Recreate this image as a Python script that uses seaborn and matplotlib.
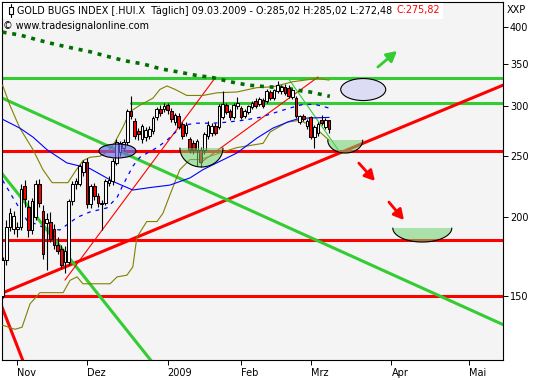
import numpy as np
import matplotlib
matplotlib.use("Agg")
import matplotlib.pyplot as plt
import matplotlib.patches as mpatches
import matplotlib.transforms as mtransforms
import matplotlib.ticker as mticker
from matplotlib.lines import Line2D
import seaborn as sns

# ---------------- data ----------------
opens = [150,171,193,192,192,193,224,208,191,200,
         226,205,196,197,192,181,178,170,170,212,
         226,226,236,245,210,224,216,210,211,227,
         228,244,254,258,263,295,284,274,266,268,
         269,274,288,297,297,301,295,283,290,281,
         272,266,262,256,256,256,269,272,279,278,
         288,301,295,288,300,298,290,294,299,306,
         302,307,306,316,309,317,317,322,321,310,
         309,283,289,279,288,268,272,285,278,285.02]
highs = [173,198,207,205,197,226,229,213,215,229,
         230,209,203,204,195,186,181,180,214,228,
         231,243,247,248,226,227,219,213,230,233,
         248,266,264,266,297,311,287,277,281,278,
         279,289,299,301,303,304,298,293,293,283,
         283,268,265,266,259,273,284,282,282,302,
         317,304,297,303,310,300,297,301,306,309,
         310,309,319,318,320,329,324,325,324,320,
         311,291,292,286,290,280,283,291,287,285.02]
lows = [149,168,190,188,186,191,208,186,188,198,
        208,172,165,183,178,175,166,163,168,209,
        222,224,233,207,207,213,208,191,209,224,
        225,242,250,255,260,286,266,265,262,264,
        266,271,285,290,294,292,283,280,276,266,
        269,253,252,241,240,252,266,269,270,276,
        286,292,285,286,297,286,287,292,297,298,
        300,298,304,307,307,315,314,312,309,308,
        287,281,284,276,266,258,269,280,276,272.48]
closes = [171,193,203,201,193,222,214,191,212,226,
          211,175,199,185,181,177,168,177,212,226,
          228,241,245,210,224,216,211,211,228,229,
          246,263,262,263,295,289,269,271,279,275,
          276,287,297,293,300,296,286,291,278,269,
          280,256,256,264,245,271,280,279,272,300,
          302,294,288,301,303,288,295,300,304,300,
          308,300,317,309,318,324,322,315,311,318,
          289,289,286,284,268,278,281,282,285,275.82]

month_ticks = [4, 23, 45, 65, 84, 106, 127]
month_labels = ["Nov", "Dez", "2009", "Feb", "Mrz", "Apr", "Mai"]
price_ticks = [150, 200, 250, 300, 350, 400]

bb_upper_x = [0, 2, 4.7, 8.3, 11, 13.5, 17.8, 19.7, 21.9, 23.8, 26.5, 28.7, 30.6, 32.8, 34.7,
              37.4, 41, 42.9, 44.8, 47, 50.2, 54.6, 58.4, 63.9, 69.3, 73.7, 79.1, 85.7, 89]
bb_upper_v = [324, 301, 277, 256, 238, 227, 227, 236, 246, 249, 250, 254, 263, 278, 294,
              301, 309, 319, 323, 319, 312, 312, 315, 316, 321, 322, 328, 332, 330]
bb_lower_x = [0, 3.4, 5.3, 7.5, 10.2, 16.5, 18.4, 20.3, 21.9, 29.3, 31.2, 33.9, 35.5, 36.6, 39.3,
              42.1, 43.7, 45.6, 48.3, 51.1, 53.8, 58.4, 63.9, 71, 72.9, 77.5, 81, 83.8, 86.5, 89]
bb_lower_v = [135, 133, 134, 146, 152, 152, 159, 161, 157, 157, 161, 162, 167, 186, 197,
              197, 203, 217, 238, 247, 247, 252, 258, 262, 273, 283, 285, 280, 273, 265]
ma_long_x = [0, 4.7, 8.3, 12.1, 17.5, 23.8, 30.1, 35.5, 40.2, 45.6, 51.1, 54.6, 63.9, 69.3,
             73.7, 78.3, 81, 89]
ma_long_v = [286, 277, 268, 256, 244, 239, 228, 221, 223, 225, 231, 238, 253, 267,
             277, 284, 287, 288]
ma_short_x = [0, 2.8, 6.6, 11, 15.6, 20.3, 23.8, 28.4, 31.2, 32.8, 35.5, 37.4, 42.1, 44.8,
              49.2, 53, 57.3, 61.1, 65.5, 70.1, 74.2, 78.3, 81.9, 85.1, 89]
ma_short_v = [229, 215, 198, 193, 191, 200, 204, 207, 215, 225, 241, 249, 258, 265,
              280, 282, 282, 283, 285, 288, 293, 298, 302, 302, 298]
ma200_x = [0, 4.7, 9.6, 14.3, 18.9, 23.8, 28.4, 33.4, 38.3, 42.9, 47.8, 52.4, 57.3, 62,
           66.9, 72.1, 76.9, 80.2, 83.8, 89.2]
ma200_v = [393, 389, 382, 376, 371, 366, 360, 354, 350, 344, 340, 336, 333, 328,
           324, 322, 321, 318, 316, 311]

hline_levels = [332.5, 303.8, 255.0, 184.2, 150.1]
hline_start = [-2, 35, -2, -2, -2]
hline_colors = ["#33cc33", "#33cc33", "#ff0000", "#ff0000", "#ff0000"]

trend_x0 = [-2.1, -0.16, -2.0, -2.0, 17.0, 53.8, 77.8]
trend_v0 = [150.1, 309.1, 153.6, 242.0, 159.1, 243.8, 332.5]
trend_x1 = [137.0, 137.0, 7.6, 44.7, 57.9, 86.0, 91.9]
trend_v1 = [325.0, 134.8, 110.5, 110.5, 332.5, 333.7, 253.8]
trend_colors = ["#ff0000", "#33cc33", "#ff0000", "#33cc33", "#ff0000", "#ff0000", "#33cc33"]
trend_widths = [2.2, 2.2, 2.2, 2.2, 0.8, 0.8, 0.8]

ellipse_x = [31.3, 98.3]
ellipse_v = [254.8, 318.8]
ellipse_w_px = [37, 45]
ellipse_h_px = [14, 22]
ellipse_colors = ["#6a6af0", "#dcdcf4"]
ellipse_alpha = [0.65, 1.0]

bowl_x = [54.2, 93.4, 114.4]
bowl_v = [257.6, 265.2, 192.4]
bowl_halfw_px = [21.5, 17.5, 29.5]
bowl_depth_px = [19, 13, 14]

arrow_x0 = [102.3, 97.1, 105.3]
arrow_v0 = [346.1, 243.8, 211.5]
arrow_x1 = [107.5, 101.5, 109.4]
arrow_v1 = [366.9, 228.4, 198.1]
arrow_colors = ["#33cc33", "#ff0000", "#ff0000"]

# ---------------- figure ----------------
sns.set_theme(style="white")
plt.rcParams["font.family"] = ["DejaVu Sans"]

W, H = 533, 380
fig = plt.figure(figsize=(W / 100, H / 100), dpi=100)
fig.patch.set_facecolor("white")
ax = fig.add_axes([2 / W, (H - 360) / H, (503 - 2) / W, (360 - 2) / H])
ax.set_facecolor("#f4f4f4")
ax.set_yscale("log")
XL = (-0.16, 136.4)
YL = (118.9, 438.7)
ax.set_xlim(*XL)
ax.set_ylim(*YL)


def sline(x, v, color, lw, z, ls="-"):
    sns.lineplot(x=list(x), y=list(v), ax=ax, color=color, linewidth=lw, zorder=z,
                 linestyle=ls, sort=False, estimator=None, errorbar=None, legend=False)


# horizontal levels
for lev, st, col in zip(hline_levels, hline_start, hline_colors):
    sline([st, 140], [lev, lev], col, 2.2, 2)

# trend lines
for x0, v0, x1, v1, col, lw in zip(trend_x0, trend_v0, trend_x1, trend_v1, trend_colors, trend_widths):
    sline([x0, x1], [v0, v1], col, lw, 2)

# indicators
sline(bb_upper_x, bb_upper_v, "#808000", 0.8, 3)
sline(bb_lower_x, bb_lower_v, "#808000", 0.8, 3)
sline(ma_long_x, ma_long_v, "#0000ff", 0.8, 3)
sline(ma_short_x, ma_short_v, "#0000ff", 0.9, 3, ls=(0, (3, 4)))
sline(ma200_x, ma200_v, "#006e00", 2.6, 3, ls=(0, (1.1, 1.6)))

# candles
o = np.array(opens, float)
h = np.array(highs, float)
l = np.array(lows, float)
c = np.array(closes, float)
idx = np.arange(len(o))
up = c >= o
ax.vlines(idx, l, h, color="black", lw=0.8, zorder=4)
ax.bar(idx[up], np.maximum((c - o)[up], 0.5), bottom=o[up], width=0.72,
       color="white", edgecolor="black", linewidth=0.75, zorder=5)
ax.bar(idx[~up], (o - c)[~up], bottom=c[~up], width=0.72,
       color="#ff0000", edgecolor="black", linewidth=0.75, zorder=5)


def px_trans(xc, vc):
    return fig.dpi_scale_trans + mtransforms.ScaledTranslation(xc, vc, ax.transData)


# bowls
for bx, bv, hw, dp in zip(bowl_x, bowl_v, bowl_halfw_px, bowl_depth_px):
    tr = px_trans(bx, bv)
    t = np.linspace(np.pi, 2 * np.pi, 60)
    pts = np.column_stack([hw * np.cos(t), dp * np.sin(t)]) / 100.0
    poly = mpatches.Polygon(pts, closed=True, facecolor="#6ed26e", alpha=0.55,
                            edgecolor="none", transform=tr, zorder=6)
    ax.add_patch(poly)
    ax.add_line(Line2D(pts[:, 0], pts[:, 1], color="black", lw=0.8, transform=tr, zorder=6))

# ellipses
for ex, ev, ew, eh, col, al in zip(ellipse_x, ellipse_v, ellipse_w_px, ellipse_h_px,
                                   ellipse_colors, ellipse_alpha):
    tr = px_trans(ex, ev)
    ax.add_patch(mpatches.Ellipse((0, 0), ew / 100.0, eh / 100.0, facecolor=col, alpha=al,
                                  edgecolor="none", transform=tr, zorder=6))
    ax.add_patch(mpatches.Ellipse((0, 0), ew / 100.0, eh / 100.0, facecolor="none",
                                  edgecolor="black", lw=0.8, transform=tr, zorder=6))

# arrows
for x0, v0, x1, v1, col in zip(arrow_x0, arrow_v0, arrow_x1, arrow_v1, arrow_colors):
    ax.annotate("", xy=(x1, v1), xytext=(x0, v0),
                arrowprops=dict(arrowstyle="-|>,head_length=0.55,head_width=0.3",
                                color=col, lw=2.0, shrinkA=0, shrinkB=0, mutation_scale=11),
                zorder=7)

ax.set_xlim(*XL)
ax.set_ylim(*YL)

# axes styling
for sp in ax.spines.values():
    sp.set_visible(True)
    sp.set_color("black")
    sp.set_linewidth(0.8)
ax.grid(False)
ax.set_xlabel("")
ax.set_ylabel("")
ax.yaxis.tick_right()
ax.yaxis.set_major_locator(mticker.FixedLocator(price_ticks))
ax.yaxis.set_major_formatter(mticker.FixedFormatter([str(p) for p in price_ticks]))
ax.yaxis.set_minor_locator(mticker.NullLocator())
ax.tick_params(axis="y", which="major", direction="out", length=3.5, width=0.7, pad=1.5,
               labelsize=7.0, colors="black", left=False, right=True)
ax.set_xticks(month_ticks)
ax.set_xticklabels(month_labels)
for lab in ax.get_xticklabels():
    lab.set_horizontalalignment("left")
ax.tick_params(axis="x", direction="out", length=3.5, width=0.7, pad=2,
               labelsize=7.0, colors="black", bottom=True)


# header texts
def fx(px):
    return px / W


def fy(py):
    return 1 - py / H


FS = 6.9
title_black = "GOLD BUGS INDEX [.HUI.X  Täglich] 09.03.2009 - O:285,02 H:285,02 L:272,48"
title_red = "C:275,82"
t1 = fig.text(fx(17), fy(10.5), title_black, fontsize=FS, va="center", ha="left",
              color="black", zorder=12)
fig.canvas.draw()
r = fig.canvas.get_renderer()
bb = t1.get_window_extent(renderer=r)
t2 = fig.text((bb.x1 + 4) / W, fy(10.5), title_red, fontsize=FS, va="center", ha="left",
              color="#ff0000", zorder=12)
fig.canvas.draw()
bb2 = t2.get_window_extent(renderer=r)
box_right = bb2.x1 + 3
fig.add_artist(mpatches.Rectangle((fx(3), fy(18.5)), box_right / W - fx(3), fy(3) - fy(18.5),
                                  transform=fig.transFigure, facecolor="white",
                                  edgecolor="none", zorder=10))
# small candlestick icon
fig.add_artist(Line2D([fx(10.5), fx(10.5)], [fy(4), fy(17)], transform=fig.transFigure,
                      color="black", lw=0.8, zorder=11))
fig.add_artist(mpatches.Rectangle((fx(8.5), fy(13.5)), fx(4), fy(7) - fy(13.5),
                                  transform=fig.transFigure, facecolor="white",
                                  edgecolor="black", lw=0.8, zorder=11))

fig.text(fx(3), fy(26), "\u00a9 www.tradesignalonline.com", fontsize=FS, va="center",
         ha="left", color="black", zorder=12)
fig.text(fx(507), fy(10), "XXP", fontsize=7.0, va="center", ha="left", color="black")

fig.savefig("out.png", dpi=100)
